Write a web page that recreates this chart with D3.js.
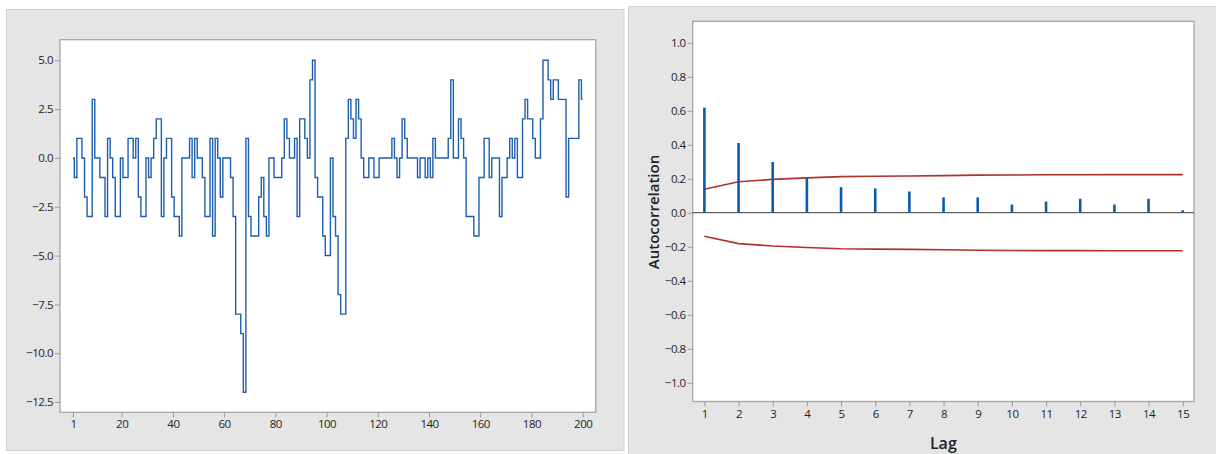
<!DOCTYPE html>
<html>
<head>
<meta charset="utf-8">
<script src="https://cdn.jsdelivr.net/npm/d3@7"></script>
<style>
  html, body { margin: 0; padding: 0; background: #fff; }
  svg { display: block; }
  .tick text { font-family: "Open Sans", "DejaVu Sans", sans-serif; font-size: 11.5px; fill: #1e1e1e; letter-spacing: -0.5px; }
  .tick line { stroke: #9a9a9a; }
</style>
</head>
<body>
<script>
// series values, index 1..200
const seriesValues = [
  0, -1, 1, 1, 0, -2, -3, -3, 3, 0,
  0, -1, -1, -3, 1, 0, -1, -3, -3, 0,
  -1, -1, 1, 1, 0, 1, -2, -3, -3, 0,
  -1, 0, 1, 2, 2, -3, 0, 1, 1, -2,
  -3, -3, -4, 0, 0, 0, 1, -1, 1, 0,
  0, -1, -3, -3, 1, -4, 1, 0, -2, 0,
  0, 0, -1, -3, -8, -8, -9, -12, 1, -3,
  -4, -4, -4, -2, -1, -3, -4, 0, 0, -1,
  -1, -1, 0, 2, 1, 0, 0, 1, -3, 2,
  2, 1, 0, 4, 5, -1, -2, -2, -4, -5,
  -5, 0, -3, -4, -7, -8, -8, 1, 3, 2,
  1, 3, 2, 0, -1, -1, 0, 0, -1, -1,
  0, 0, 0, 0, 0, 1, 0, -1, 0, 2,
  1, 0, 0, 0, 0, -1, 0, 0, -1, 0,
  -1, 1, 0, 0, 0, 0, 0, 1, 4, 0,
  0, 2, 1, 0, -3, -3, -3, -4, -4, -1,
  -1, 1, 1, -1, 0, 0, 0, -3, -1, -1,
  0, 1, 0, 1, -1, -1, 2, 3, 2, 2,
  1, 0, 0, 2, 5, 5, 4, 3, 4, 4,
  3, 3, 3, -2, 1, 1, 1, 1, 4, 3
];
const seriesTicks = [1, 20, 40, 60, 80, 100, 120, 140, 160, 180, 200];
const seriesYTicks = [5, 2.5, 0, -2.5, -5, -7.5, -10, -12.5];

// autocorrelation by lag
const lags = [1, 2, 3, 4, 5, 6, 7, 8, 9, 10, 11, 12, 13, 14, 15];
const acfValues = [0.618, 0.41, 0.298, 0.206, 0.151, 0.143, 0.125, 0.09, 0.09, 0.048, 0.066, 0.082, 0.048, 0.082, 0.014];
const upperLimit = [0.138, 0.182, 0.196, 0.205, 0.212, 0.214, 0.216, 0.218, 0.221, 0.222, 0.223, 0.223, 0.224, 0.224, 0.224];
const acfYTicks = [1, 0.8, 0.6, 0.4, 0.2, 0, -0.2, -0.4, -0.6, -0.8, -1];

const W = 1216, H = 454;
const svg = d3.select('body').append('svg').attr('width', W).attr('height', H);

// panel backgrounds
svg.append('rect').attr('x', 6.5).attr('y', 9.5).attr('width', 617.5).attr('height', 441)
  .attr('fill', '#e5e5e5').attr('stroke', '#d2d2d2');
svg.append('rect').attr('x', 628.5).attr('y', 6.5).attr('width', 590).attr('height', 450)
  .attr('fill', '#e5e5e5').attr('stroke', '#d2d2d2');

// ---- left: time series plot ----
const left = { x0: 60, x1: 595.7, y0: 39.7, y1: 412.3 };
const x1s = d3.scaleLinear().domain([1, 200]).range([73, 582.7]);
const y1s = d3.scaleLinear().domain([5, -12.5]).range([60.3, 402]);

svg.append('rect').attr('x', left.x0).attr('y', left.y0)
  .attr('width', left.x1 - left.x0).attr('height', left.y1 - left.y0)
  .attr('fill', '#fff').attr('stroke', '#a6a6a6').attr('stroke-width', 1.3);

const lx = svg.append('g').attr('transform', `translate(0,${left.y1})`)
  .call(d3.axisBottom(x1s).tickValues(seriesTicks).tickSize(5).tickPadding(3).tickFormat(d3.format('d')));
const ly = svg.append('g').attr('transform', `translate(${left.x0},0)`)
  .call(d3.axisLeft(y1s).tickValues(seriesYTicks).tickSize(5).tickPadding(2).tickFormat(d3.format('.1f')));
[lx, ly].forEach(g => g.select('.domain').remove());

const stepLine = d3.line()
  .x((d, i) => x1s(i + 1))
  .y(d => y1s(d))
  .curve(d3.curveStep);
svg.append('path').datum(seriesValues)
  .attr('d', stepLine)
  .attr('fill', 'none')
  .attr('stroke', '#1d5fae')
  .attr('stroke-width', 1.4);

// ---- right: autocorrelation plot ----
const right = { x0: 692.7, x1: 1194, y0: 21.3, y1: 401.5 };
const x2s = d3.scaleLinear().domain([1, 15]).range([704.4, 1182.7]);
const y2s = d3.scaleLinear().domain([1, -1]).range([42.7, 382.7]);

svg.append('rect').attr('x', right.x0).attr('y', right.y0)
  .attr('width', right.x1 - right.x0).attr('height', right.y1 - right.y0)
  .attr('fill', '#fff').attr('stroke', '#a6a6a6').attr('stroke-width', 1.3);

const rx = svg.append('g').attr('transform', `translate(0,${right.y1})`)
  .call(d3.axisBottom(x2s).tickValues(lags).tickSize(5).tickPadding(3).tickFormat(d3.format('d')));
const ry = svg.append('g').attr('transform', `translate(${right.x0},0)`)
  .call(d3.axisLeft(y2s).tickValues(acfYTicks).tickSize(5).tickPadding(2).tickFormat(d3.format('.1f')));
[rx, ry].forEach(g => g.select('.domain').remove());

// zero reference line
svg.append('line')
  .attr('x1', right.x0).attr('x2', right.x1)
  .attr('y1', y2s(0)).attr('y2', y2s(0))
  .attr('stroke', '#3a3a3a').attr('stroke-width', 1);

// significance limits
const limitLine = d3.line().x((d, i) => x2s(lags[i])).curve(d3.curveLinear);
svg.append('path').datum(upperLimit)
  .attr('d', limitLine.y(d => y2s(d)))
  .attr('fill', 'none').attr('stroke', '#b0302c').attr('stroke-width', 1.6);
svg.append('path').datum(upperLimit)
  .attr('d', limitLine.y(d => y2s(-d)))
  .attr('fill', 'none').attr('stroke', '#b0302c').attr('stroke-width', 1.6);

// acf spikes
svg.selectAll('.spike').data(acfValues).enter().append('line')
  .attr('class', 'spike')
  .attr('x1', (d, i) => x2s(lags[i])).attr('x2', (d, i) => x2s(lags[i]))
  .attr('y1', y2s(0)).attr('y2', d => y2s(d))
  .attr('stroke', '#0b5bab').attr('stroke-width', 2.6);

// axis titles
svg.append('text')
  .attr('transform', `translate(659,212) rotate(-90)`)
  .attr('text-anchor', 'middle')
  .style('font-family', '"Open Sans", "DejaVu Sans", sans-serif')
  .style('font-size', '15px').style('font-weight', 600).style('fill', '#222')
  .text('Autocorrelation');
svg.append('text')
  .attr('x', (right.x0 + right.x1) / 2).attr('y', 449)
  .attr('text-anchor', 'middle')
  .style('font-family', '"Open Sans", "DejaVu Sans", sans-serif')
  .style('font-size', '16px').style('font-weight', 600).style('fill', '#222')
  .text('Lag');
</script>
</body>
</html>
